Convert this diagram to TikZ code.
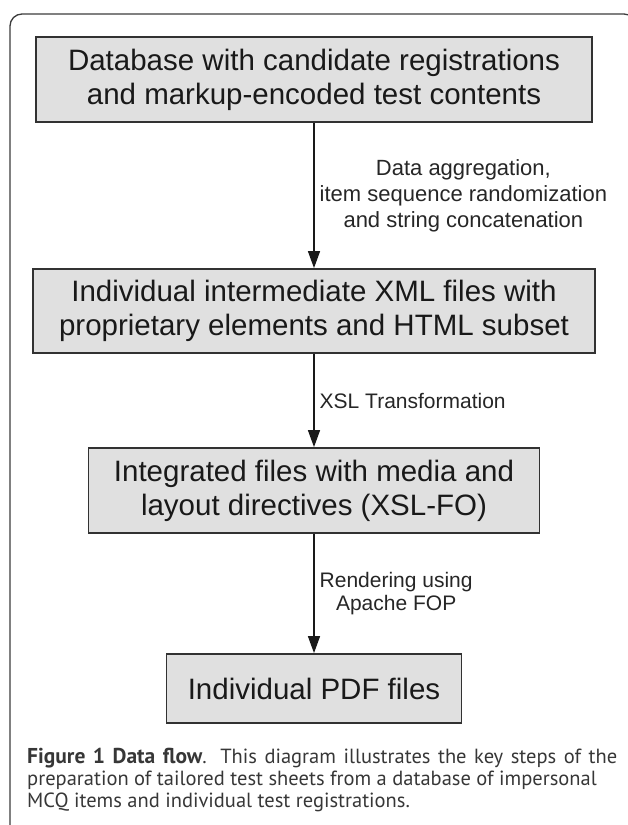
\documentclass[tikz,border=0pt]{standalone}
\usepackage{fontspec}
\setmainfont{Liberation Sans}
\newfontfamily\capfont{PT Sans}
\usetikzlibrary{arrows.meta}
\definecolor{boxfill}{RGB}{224,224,224}
\definecolor{boxline}{RGB}{50,50,50}
\definecolor{framecol}{RGB}{60,60,60}
\definecolor{captext}{RGB}{55,55,55}
\begin{document}
\begin{tikzpicture}[x=1pt,y=-1pt,
  stepbox/.style={draw=boxline, line width=1.8pt, fill=boxfill, inner sep=0pt,
    align=center, font=\fontsize{29.5}{34}\selectfont, text=black!90},
  flow/.style={draw=black!90, line width=1.4pt, -{Triangle[length=17pt,width=12pt]}},
  lbl/.style={anchor=west, align=center, inner sep=0pt, text=black!85},
  captline/.style={anchor=base west, inner sep=0pt, text=captext,
    font=\capfont\fontsize{20.5}{23}\selectfont}]
\useasboundingbox (0,0) rectangle (628,825);
\clip (0,0) rectangle (628,825);
\draw[framecol, line width=1.3pt, rounded corners=12pt] (10,840) -- (10,14) -- (636,14) -- (636,840);

\node[stepbox, minimum width=556pt, minimum height=85pt] (b1) at (314,79.5)
  {Database with candidate registrations\\and markup-encoded test contents};
\node[stepbox, minimum width=562pt, minimum height=84pt] (b2) at (314,311)
  {Individual intermediate XML files with\\proprietary elements and HTML subset};
\node[stepbox, minimum width=451pt, minimum height=85pt] (b3) at (314,490.5)
  {Integrated files with media and\\layout directives (XSL-FO)};
\node[stepbox, minimum width=295pt, minimum height=69pt] (b4) at (314,688.5)
  {Individual PDF files};

\draw[flow] (b1) -- node[lbl, xshift=5pt, font=\fontsize{22}{26}\selectfont]
  {Data aggregation,\\item sequence randomization\\and string concatenation} (b2);
\draw[flow] (b2) -- node[lbl, xshift=5pt, font=\fontsize{21}{23}\selectfont]
  {XSL Transformation} (b3);
\draw[flow] (b3) -- node[lbl, xshift=5pt, font=\fontsize{21}{23}\selectfont]
  {Rendering using\\Apache FOP} (b4);

\node[captline] (c1) at (27,763) {\makebox[590pt][s]{{\fontsize{21.5}{23}\selectfont\bfseries Figure 1 Data flow}. This diagram illustrates the key steps of the}};
\node[captline] (c2) at (27,785) {preparation of tailored test sheets from a database of impersonal};
\node[captline] (c3) at (27,807) {MCQ items and individual test registrations.};
\end{tikzpicture}
\end{document}
